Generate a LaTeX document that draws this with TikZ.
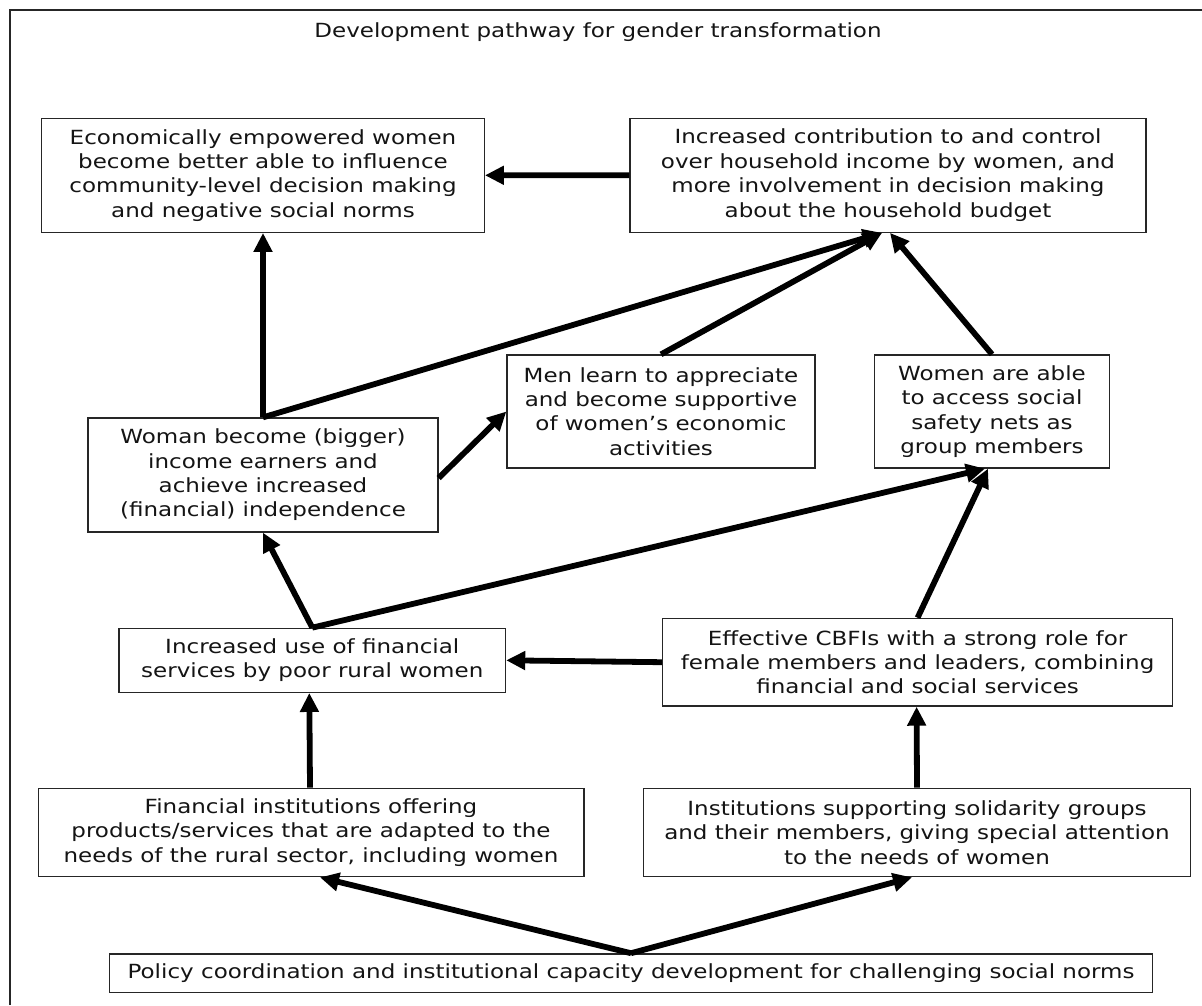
\documentclass[tikz,border=0pt]{standalone}
\usepackage{fontspec}
\setmainfont{DejaVu Sans}[FakeStretch=1.18]
\usetikzlibrary{arrows.meta}
\begin{document}
\begin{tikzpicture}[x=1pt,y=-1pt,
  txt/.style={font=\fontsize{19.5}{24.4}\selectfont, text=black!92},
  box/.style={txt, draw=black!85, line width=1.3pt, inner sep=0pt, align=center},
  flow/.style={line width=5.8pt, black, -{Triangle[length=19pt,width=18pt]}}]
% canvas and frame
\useasboundingbox (0,0) rectangle (1202,1005);
\fill[white] (0,0) rectangle (1202,1005);
\draw[line width=2pt, black!85] (9.5,1005) -- (9.5,9.5) -- (1202,9.5);

\node[txt] (title) at (598,32) {Development pathway for gender transformation};

% boxes
\node[box, minimum width=442.6pt, minimum height=114pt] (B1) at (263,175.3)
  {Economically empowered women\\become better able to influence\\community-level decision making\\and negative social norms};
\node[box, minimum width=516pt, minimum height=114pt] (B2) at (888,175.2)
  {Increased contribution to and control\\over household income by women, and\\more involvement in decision making\\about the household budget};
\node[box, minimum width=308pt, minimum height=113pt] (M) at (661,411.5)
  {Men learn to appreciate\\and become supportive\\of women’s economic\\activities};
\node[box, minimum width=235pt, minimum height=113pt] (S) at (992,411.5)
  {Women are able\\to access social\\safety nets as\\group members};
\node[box, minimum width=350pt, minimum height=114pt] (W) at (263,475)
  {Woman become (bigger)\\income earners and\\achieve increased\\(financial) independence};
\node[box, minimum width=386.5pt, minimum height=64pt] (U) at (312.3,660.3)
  {Increased use of financial\\services by poor rural women};
\node[box, minimum width=510pt, minimum height=87.7pt] (C) at (917.6,662.2)
  {Effective CBFIs with a strong role for\\female members and leaders, combining\\financial and social services};
\node[box, minimum width=545.7pt, minimum height=88.4pt] (F) at (311,832.5)
  {Financial institutions offering\\products/services that are adapted to the\\needs of the rural sector, including women};
\node[box, minimum width=546.5pt, minimum height=88.4pt] (I) at (917,832.5)
  {Institutions supporting solidarity groups\\and their members, giving special attention\\to the needs of women};
\node[box, minimum width=1042.4pt, minimum height=38.3pt] (P) at (631,973)
  {Policy coordination and institutional capacity development for challenging social norms};

% connectors
\draw[flow] (B2.west) -- (B1.east);
\draw[flow] (W.north) -- (B1.south);
\draw[flow] (W.north) -- ([xshift=-6pt]B2.south);
\draw[flow] (M.north) -- ([xshift=-6pt]B2.south);
\draw[flow] (S.north) -- ([xshift=2pt]B2.south);
\draw[flow] ([yshift=-3pt]W.east) -- (M.west);
\draw[flow] (U.north) -- (W.south);
\draw[flow] (U.north) -- ([xshift=-7pt]S.south);
\draw[flow] (C.north) -- ([xshift=-4pt]S.south);
\draw[flow] (C.west) -- (U.east);
\draw[flow] ([xshift=-1pt]F.north) -- ([xshift=-3pt]U.south);
\draw[flow] (I.north) -- ([xshift=-1pt]C.south);
\draw[flow] (P.north) -- ([xshift=9pt]F.south);
\draw[flow] (P.north) -- ([xshift=-5pt]I.south);
\end{tikzpicture}
\end{document}
